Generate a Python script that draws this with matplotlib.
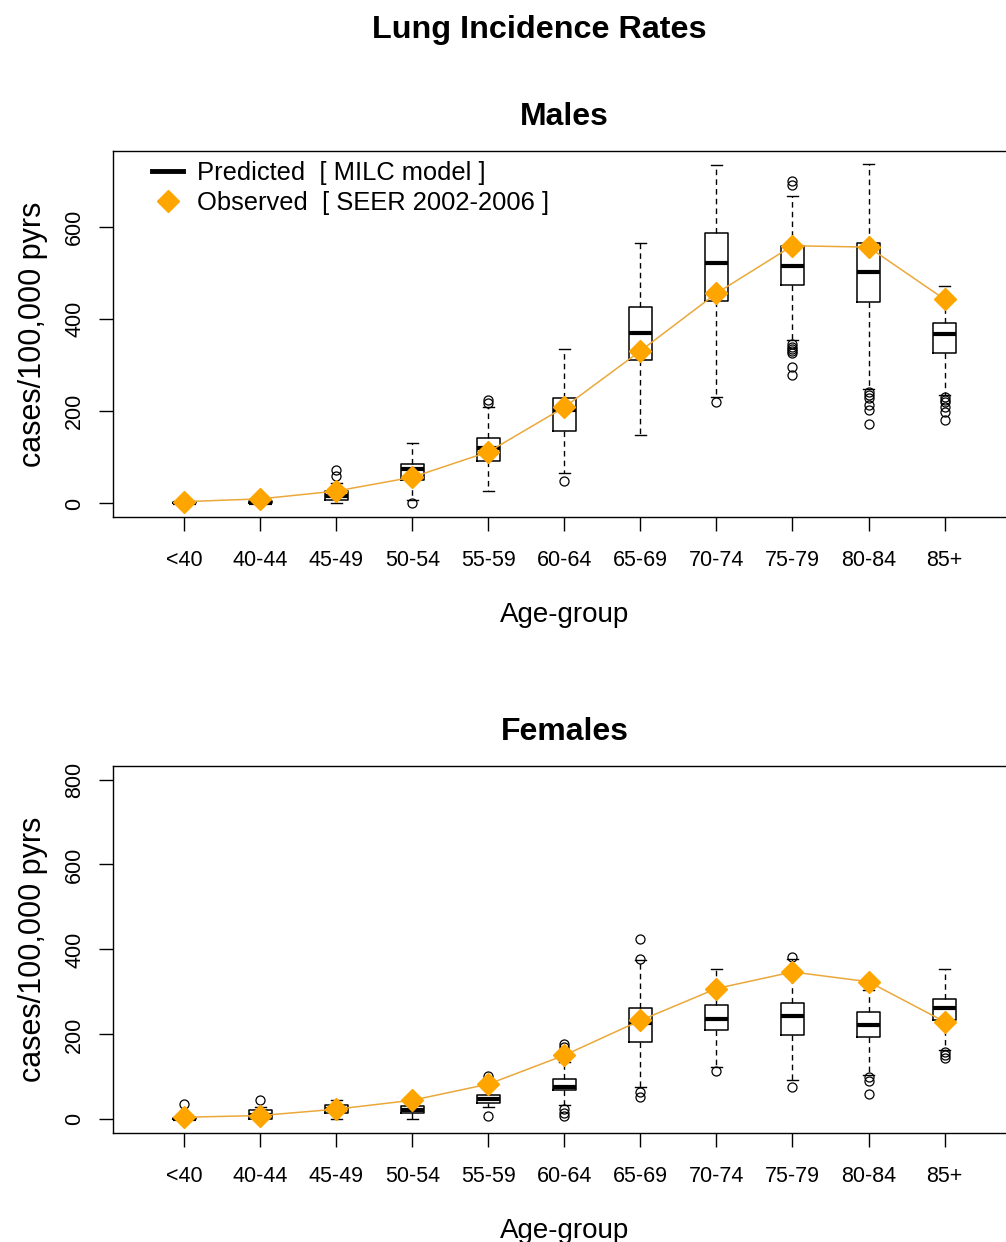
import numpy as np
import matplotlib.pyplot as plt
from matplotlib.lines import Line2D

plt.rcParams['font.family'] = ['Liberation Sans', 'DejaVu Sans']

age_groups = ['<40', '40-44', '45-49', '50-54', '55-59', '60-64',
              '65-69', '70-74', '75-79', '80-84', '85+']

# males: predicted (MILC model) box summaries
male_whislo = [0, 0, 1, 8, 26, 66, 149, 231, 354, 249, 235]
male_q1 = [0, 0, 7, 50, 93, 157, 311, 440, 474, 438, 327]
male_med = [1, 2, 17, 75, 121, 202, 370, 521, 515, 503, 367]
male_q3 = [3, 5, 27, 85, 142, 228, 427, 586, 559, 565, 392]
male_whishi = [6, 8, 45, 132, 209, 336, 565, 735, 666, 737, 472]
male_fliers = [[], [], [59, 72], [1], [217, 224], [48], [], [220],
               [699, 691, 346, 340, 335, 330, 326, 296, 278],
               [242, 236, 228, 213, 202, 173],
               [231, 225, 220, 209, 199, 180]]
# males: observed (SEER 2002-2006)
male_obs = [4, 10, 27, 57, 112, 209, 331, 456, 559, 556, 443]

# females: predicted (MILC model) box summaries
female_whislo = [0, 0, 0, 0, 29, 33, 76, 123, 92, 104, 163]
female_q1 = [0, 0, 15, 15, 38, 68, 182, 210, 198, 193, 233]
female_med = [1, 10, 25, 21, 49, 76, 227, 237, 243, 223, 261]
female_q3 = [3, 21, 33, 31, 57, 96, 261, 270, 273, 253, 283]
female_whishi = [8, 29, 45, 36, 95, 135, 375, 355, 377, 305, 355]
female_fliers = [[35], [46], [], [], [101, 7], [178, 170, 25, 15, 7],
                 [424, 378, 64, 53], [114], [383, 76], [100, 90, 59],
                 [159, 151, 145]]
# females: observed (SEER 2002-2006)
female_obs = [5, 9, 24, 45, 83, 151, 233, 308, 347, 324, 230]

orange = '#FFA500'
line_col = '#EBA83A'


def draw_panel(ax, whislo, q1, med, q3, whishi, fliers, obs, ymax, title):
    x = np.arange(1, len(age_groups) + 1)
    stats = []
    for i in range(len(age_groups)):
        stats.append(dict(whislo=whislo[i], q1=q1[i], med=med[i], q3=q3[i],
                          whishi=whishi[i], fliers=fliers[i]))
    ax.bxp(stats, positions=x, widths=0.3, showfliers=True,
           boxprops=dict(color='black', lw=1.1),
           whiskerprops=dict(color='black', lw=1.0, linestyle=(0, (4, 3))),
           capprops=dict(color='black', lw=1.0),
           medianprops=dict(color='black', lw=3.0, solid_capstyle='butt'),
           flierprops=dict(marker='o', mfc='none', mec='black', ms=6.5, mew=0.9))
    ax.plot(x, obs, color=line_col, lw=1.1, zorder=4)
    ax.plot(x, obs, 'D', color=orange, ms=11, mec=orange, zorder=5)

    ax.set_xlim(0.06, 11.94)
    ax.set_ylim(-ymax * 0.04, ymax * 1.04)
    ax.set_xticks(x)
    ax.set_xticklabels(age_groups)
    ax.set_yticks(np.arange(0, ymax + 1, 200))
    ax.tick_params(axis='x', length=10, width=1, labelsize=15.5, pad=14)
    ax.tick_params(axis='y', length=10, width=1, labelsize=15.5, pad=10,
                   labelrotation=90)
    for lab in ax.get_yticklabels():
        lab.set_verticalalignment('center')
    for s in ax.spines.values():
        s.set_linewidth(1.0)
    ax.set_xlabel('Age-group', fontsize=20, labelpad=22)
    ax.set_ylabel('cases/100,000 pyrs', fontsize=22, labelpad=12)
    ax.set_title(title, fontsize=23, fontweight='bold', pad=19)


fig = plt.figure(figsize=(10.06, 12.42), dpi=100)
ax1 = fig.add_axes([0.1123, 0.5837, 0.8976, 0.2947])
ax2 = fig.add_axes([0.1123, 0.0878, 0.8976, 0.2955])

draw_panel(ax1, male_whislo, male_q1, male_med, male_q3, male_whishi,
           male_fliers, male_obs, 735, 'Males')
draw_panel(ax2, female_whislo, female_q1, female_med, female_q3, female_whishi,
           female_fliers, female_obs, 800, 'Females')

handles = [Line2D([], [], color='black', lw=3.5),
           Line2D([], [], marker='D', color=orange, ls='none', ms=11)]
ax1.legend(handles, ['Predicted  [ MILC model ]', 'Observed  [ SEER 2002-2006 ]'],
           loc='upper left', bbox_to_anchor=(0.018, 1.035), frameon=False,
           fontsize=18.4, handlelength=1.2, handletextpad=0.55, labelspacing=0.22)

fig.text(0.536, 0.976, 'Lung Incidence Rates', ha='center', va='center',
         fontsize=23.3, fontweight='bold')

fig.savefig('out.png', dpi=100)
